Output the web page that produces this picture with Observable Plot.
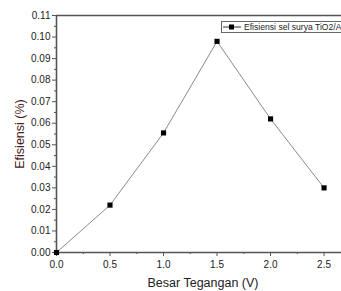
<!DOCTYPE html>
<html>
<head>
<meta charset="utf-8">
<script src="https://cdn.jsdelivr.net/npm/d3@7"></script>
<script src="https://cdn.jsdelivr.net/npm/@observablehq/plot@0.6"></script>
<style>
  html, body { margin: 0; padding: 0; background: #fff; }
  #wrap { position: relative; width: 341px; height: 291px; overflow: hidden; font-family: "Liberation Sans", Arial, sans-serif; }
  #legend { position: absolute; left: 221px; top: 21px; height: 12px; width: 160px; border: 1px solid #666; background: #fff;
    box-sizing: border-box; font-size: 8.6px; line-height: 10px; white-space: nowrap; color: #222; display: flex; align-items: center; }
  #legend svg { flex: none; }
</style>
</head>
<body>
<div id="wrap"></div>
<script>
const voltage = [0, 0.5, 1.0, 1.5, 2.0, 2.5];
const efficiency = [0.0, 0.022, 0.0555, 0.098, 0.062, 0.030];
const seriesName = "Efisiensi sel surya TiO2/Ag";
const xTicks = [0, 0.5, 1.0, 1.5, 2.0, 2.5];
const xMinor = [0.25, 0.75, 1.25, 1.75, 2.25];
const yTicks = [0, 0.01, 0.02, 0.03, 0.04, 0.05, 0.06, 0.07, 0.08, 0.09, 0.10, 0.11];
const yMinor = [0.005, 0.015, 0.025, 0.035, 0.045, 0.055, 0.065, 0.075, 0.085, 0.095, 0.105];

const data = voltage.map((v, i) => ({x: v, y: efficiency[i]}));
const axisColor = "#555";

const chart = Plot.plot({
  width: 341,
  height: 291,
  marginLeft: 56,
  marginRight: 0,
  marginTop: 15,
  marginBottom: 39,
  style: {fontFamily: "Liberation Sans, Arial, sans-serif", background: "#fff", color: "#222"},
  x: {domain: [0, 2.663]},
  y: {domain: [0, 0.11]},
  marks: [
    Plot.axisY(yMinor, {tickSize: 2, text: null, label: null, stroke: axisColor}),
    Plot.axisY(yTicks, {tickSize: 4, tickPadding: 2, tickFormat: d3.format(".2f"), fontSize: 10, stroke: axisColor,
      label: "Efisiensi (%)", labelAnchor: "center", labelOffset: 41, labelArrow: "none"}),
    Plot.axisX(xMinor, {tickSize: 2, text: null, label: null, stroke: axisColor}),
    Plot.axisX(xTicks, {tickSize: 4, tickPadding: 4, tickFormat: d3.format(".1f"), fontSize: 10, stroke: axisColor,
      label: "Besar Tegangan (V)", labelAnchor: "center", labelOffset: 34, labelArrow: "none"}),
    Plot.ruleY([0, 0.11], {stroke: axisColor, strokeWidth: 1.6}),
    Plot.ruleX([0], {stroke: axisColor, strokeWidth: 1.6}),
    Plot.line(data, {x: "x", y: "y", stroke: "#8a8a8a", strokeWidth: 1}),
    Plot.dot(data, {x: "x", y: "y", symbol: "square", r: 2.9, fill: "#000", stroke: "none"})
  ]
});

d3.select(chart).selectAll("g[aria-label='x-axis label'] text, g[aria-label='y-axis label'] text")
  .attr("font-size", 12.5);
d3.select(chart).selectAll("g[aria-label='y-axis label'] text").attr("fill", "#4a1c1c");
d3.select(chart).selectAll("g[aria-label='x-axis label'] text").attr("dx", 4);

const wrap = document.getElementById("wrap");
wrap.appendChild(chart);

const legend = document.createElement("div");
legend.id = "legend";
legend.innerHTML = `<svg width="20" height="10"><line x1="1" x2="19" y1="5" y2="5" stroke="#333" stroke-width="1"/><rect x="7" y="2.5" width="5" height="5" fill="#000"/></svg><span style="margin-left:2px">${seriesName}</span>`;
wrap.appendChild(legend);
</script>
</body>
</html>
